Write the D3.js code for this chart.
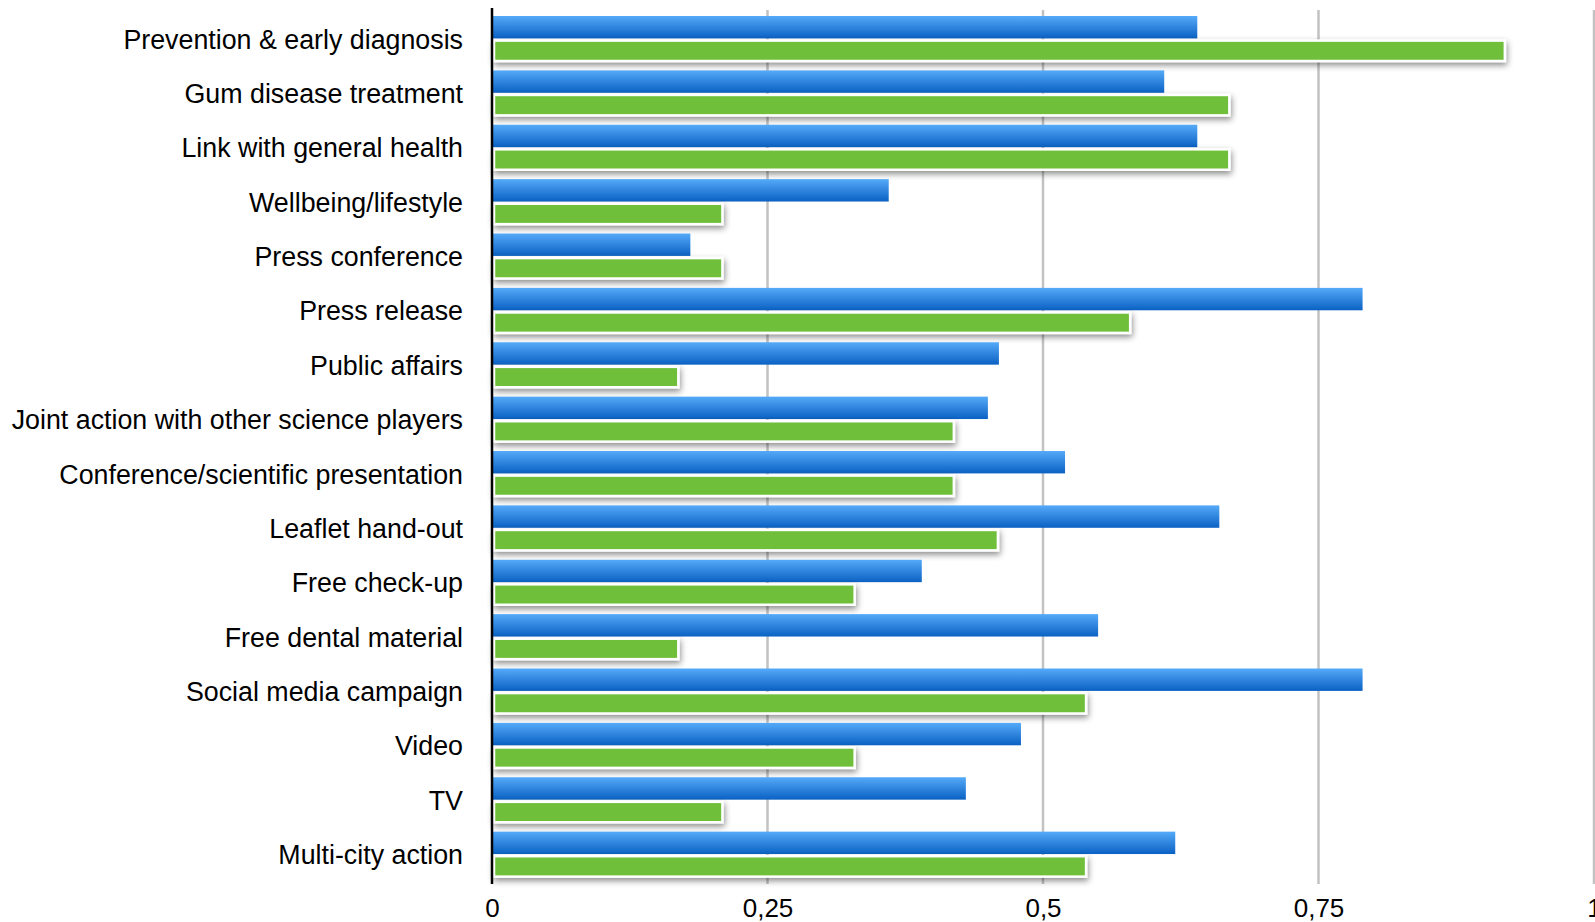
<!DOCTYPE html>
<html>
<head>
<meta charset="utf-8">
<script src="https://cdn.jsdelivr.net/npm/d3@7"></script>
<style>
  body { margin: 0; background: #fff; }
  text { font-family: "Liberation Sans", Arial, Helvetica, sans-serif; }
</style>
</head>
<body>
<div id="chart"></div>
<script>
// data
var categories = [
  "Prevention & early diagnosis",
  "Gum disease treatment",
  "Link with general health",
  "Wellbeing/lifestyle",
  "Press conference",
  "Press release",
  "Public affairs",
  "Joint action with other science players",
  "Conference/scientific presentation",
  "Leaflet hand-out",
  "Free check-up",
  "Free dental material",
  "Social media campaign",
  "Video",
  "TV",
  "Multi-city action"
];
var blueValues  = [0.64, 0.61, 0.64, 0.36, 0.18, 0.79, 0.46, 0.45, 0.52, 0.66, 0.39, 0.55, 0.79, 0.48, 0.43, 0.62];
var greenValues = [0.92, 0.67, 0.67, 0.21, 0.21, 0.58, 0.17, 0.42, 0.42, 0.46, 0.33, 0.17, 0.54, 0.33, 0.21, 0.54];
var tickValues = [0, 0.25, 0.5, 0.75, 1];
var series = ["blue", "green"];

var width = 1595, height = 922;
var axisTop = 8, axisBottom = 884;

var svg = d3.select("#chart").append("svg")
  .attr("width", width)
  .attr("height", height);

var defs = svg.append("defs");
var grad = defs.append("linearGradient")
  .attr("id", "blueGrad")
  .attr("x1", "0%").attr("y1", "0%")
  .attr("x2", "0%").attr("y2", "100%");
grad.append("stop").attr("offset", "0%").attr("stop-color", "#55aaf8");
grad.append("stop").attr("offset", "100%").attr("stop-color", "#0a61c3");

var shadow = defs.append("filter")
  .attr("id", "shadow")
  .attr("x", "-5%").attr("y", "-40%")
  .attr("width", "115%").attr("height", "200%");
shadow.append("feDropShadow")
  .attr("dx", 1).attr("dy", 3)
  .attr("stdDeviation", 3)
  .attr("flood-color", "#000")
  .attr("flood-opacity", 0.45);

var x = d3.scaleLinear()
  .domain([0, 1])
  .range([492, 1594]);

var y = d3.scaleBand()
  .domain(categories)
  .range([12, 882]);

var y1 = d3.scaleBand()
  .domain(series)
  .range([4, 50])
  .paddingInner(0.05);

// grid lines
svg.append("g")
  .selectAll("line")
  .data(tickValues.filter(function(d) { return d > 0; }))
  .enter().append("line")
    .attr("x1", function(d) { return x(d); })
    .attr("x2", function(d) { return x(d); })
    .attr("y1", 10)
    .attr("y2", axisBottom)
    .attr("stroke", "#c2c2c2")
    .attr("stroke-width", 2.5);

var rows = svg.append("g")
  .selectAll("g")
  .data(categories)
  .enter().append("g")
    .attr("transform", function(d) { return "translate(0," + y(d) + ")"; });

// blue bars
rows.append("rect")
  .attr("x", x(0))
  .attr("y", y1("blue"))
  .attr("width", function(d, i) { return x(blueValues[i]) - x(0); })
  .attr("height", y1.bandwidth())
  .attr("fill", "url(#blueGrad)");

// green bars with white border and shadow
rows.append("rect")
  .attr("x", x(0) + 2)
  .attr("y", y1("green") + 1)
  .attr("width", function(d, i) { return x(greenValues[i]) - x(0) - 3; })
  .attr("height", y1.bandwidth() - 2)
  .attr("fill", "#6fbf3a")
  .attr("stroke", "#fff")
  .attr("stroke-width", 2.5)
  .attr("filter", "url(#shadow)");

// category labels
rows.append("text")
  .attr("x", 463)
  .attr("y", y.bandwidth() / 2)
  .attr("dy", "0.35em")
  .attr("text-anchor", "end")
  .attr("font-size", 26.8)
  .attr("fill", "#000")
  .text(function(d) { return d; });

// vertical axis line
svg.append("line")
  .attr("x1", x(0)).attr("x2", x(0))
  .attr("y1", axisTop).attr("y2", axisBottom)
  .attr("stroke", "#000")
  .attr("stroke-width", 2.5);

// bottom tick labels
var xAxis = svg.append("g")
  .attr("transform", "translate(0," + axisBottom + ")")
  .call(d3.axisBottom(x)
    .tickValues(tickValues)
    .tickSize(0)
    .tickPadding(15)
    .tickFormat(function(d) { return String(d).replace(".", ","); }));
xAxis.select(".domain").remove();
xAxis.selectAll("text")
  .attr("font-size", 26)
  .attr("font-family", "Liberation Sans, Arial, sans-serif")
  .attr("fill", "#000");
</script>
</body>
</html>
